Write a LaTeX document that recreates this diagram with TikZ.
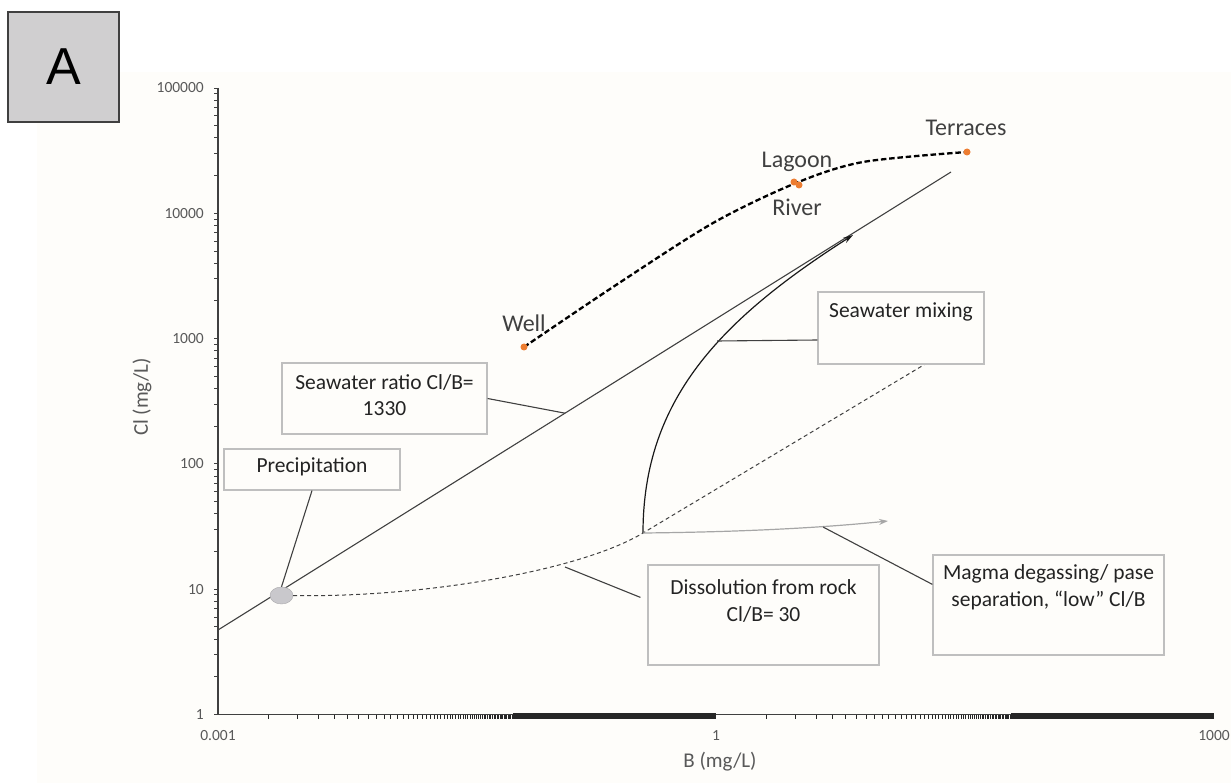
\documentclass[tikz,border=0pt]{standalone}
\usepackage{fontspec}
\setmainfont{Carlito}
\newfontfamily\arialfont{Liberation Sans}
\usetikzlibrary{arrows.meta,calc,shapes.geometric}
\definecolor{bgc}{RGB}{254,253,250}
\definecolor{axc}{RGB}{64,64,64}
\definecolor{lblc}{RGB}{89,89,89}
\definecolor{dotc}{RGB}{237,125,49}
\definecolor{boxc}{RGB}{191,191,191}
\definecolor{txtc}{RGB}{35,35,35}
\definecolor{ptc}{RGB}{64,64,64}
\definecolor{abg}{RGB}{208,207,208}
\definecolor{ellc}{RGB}{201,200,204}
\definecolor{magc}{RGB}{166,166,166}
\begin{document}
\begin{tikzpicture}[x=1pt,y=-1pt,
  labelbox/.style={draw=boxc, line width=1.2pt, fill=bgc, rectangle, inner sep=0pt},
  boxtext/.style={font=\fontsize{21.5}{27}\selectfont, text=txtc, align=center, inner sep=0pt},
  ptlabel/.style={font=\fontsize{24}{28}\selectfont, text=ptc, inner sep=0pt},
  ticklbl/.style={font=\fontsize{15.5}{18}\selectfont, text=lblc, inner sep=0pt},
  axtitle/.style={font=\fontsize{21}{25}\selectfont, text=lblc, inner sep=0pt},
  leader/.style={draw=axc, line width=1.1pt},
  dotmark/.style={circle, fill=dotc, minimum size=7pt, inner sep=0pt},
  axline/.style={draw=axc, line width=1.2pt},
  tickline/.style={draw=black!85, line width=0.8pt},
]
\useasboundingbox (0,0) rectangle (1231,783);
\fill[white] (0,0) rectangle (1231,783);
\fill[bgc] (37,72) rectangle (1231,783);

% panel letter
\node[draw=axc, line width=1.2pt, fill=abg, minimum width=111pt, minimum height=110pt, inner sep=0pt] (abox) at (63.5,67) {\arialfont\fontsize{52}{52}\selectfont A};

% axes
\draw[axline] (218,88) -- (218,714.5) -- (1214,714.5);
% y ticks (log)
\foreach \d in {0,...,4}{
  \foreach \m in {1,...,9}{
    \draw[axline, line width=0.9pt] (214,{714.5-125.3*(\d+log10(\m))}) -- (218,{714.5-125.3*(\d+log10(\m))});
  }
}
\draw[axline, line width=0.9pt] (214,88) -- (218,88);
% x ticks (linear minor ticks on log axis)
\foreach \k in {2,...,60}{
  \draw[tickline] ({218+166*log10(\k)},714.5) -- ++(0,4.3);
  \draw[tickline] ({716+166*log10(\k)},714.5) -- ++(0,4.3);
}
\fill[black!85] ({218+166*log10(60)},713.4) rectangle (716,718.8);
\fill[black!85] ({716+166*log10(60)},713.4) rectangle (1214,718.8);

% tick labels
\node[ticklbl, anchor=east] at (204,714.5) {1};
\node[ticklbl, anchor=east] at (204,589.2) {10};
\node[ticklbl, anchor=east] at (204,463.9) {100};
\node[ticklbl, anchor=east] at (204,338.6) {1000};
\node[ticklbl, anchor=east] at (204,213.3) {10000};
\node[ticklbl, anchor=east] at (204,88) {100000};
\node[ticklbl] at (218,736) {0.001};
\node[ticklbl] at (716,736) {1};
\node[ticklbl] at (1214,736) {1000};
\node[axtitle, rotate=90] at (142,397) {Cl (mg/L)};
\node[axtitle] at (720,762) {B (mg/L)};

% seawater ratio line
\coordinate (sl0) at (218,630);
\coordinate (sl1) at (951,172);
\draw[axc, line width=1.1pt] (sl0) -- (sl1);
\coordinate (srpt) at ($(sl0)!0.4734!(sl1)$);

% precipitation ellipse
\node[ellipse, fill=ellc, draw=ellc!85!black, line width=0.4pt, minimum width=23pt, minimum height=17pt, inner sep=0pt] (ell) at (281.5,595.5) {};

% dissolution (dashed thin) curve
\coordinate (jn) at (643,533);
\coordinate (dissend) at (932,360);
\draw[axc, line width=1pt, dash pattern=on 4pt off 3pt] (ell.east) .. controls (420,598) and (580,571) .. (jn) -- (dissend);
\coordinate (disspt) at (565,567);

% seawater mixing curve
\coordinate (mixpt) at (717,341);
\coordinate (mixtip) at (853,235);
\draw[black!90, line width=1.2pt, -{Stealth[length=10pt,width=6pt]}] (jn) .. controls (643,400) and (720,320) .. (mixtip);

% magma degassing arrow
\coordinate (magpt) at (823,527);
\coordinate (magtip) at (888,521);
\draw[magc, line width=1.2pt, -{Stealth[length=9pt,width=6pt]}] (jn) .. controls (740,532) and (820,528) .. (magtip);

% sample curve Well -> Terraces
\coordinate (well) at (524,347);
\coordinate (lagoon) at (794,182);
\coordinate (river) at (799,185);
\coordinate (terr) at (967,152);
\draw[black, line width=2.3pt, dash pattern=on 5.5pt off 2.8pt] plot[smooth] coordinates {(well) (613,287) (713,223) (796,183) (863,162) (terr)};
\node[dotmark] (wellp) at (well) {};
\node[dotmark] (lagp) at (lagoon) {};
\node[dotmark] (rivp) at (river) {};
\node[dotmark] (terrp) at (terr) {};
\node[ptlabel] at (524,323) {Well};
\node[ptlabel] at (797,162) {Lagoon};
\node[ptlabel] at (797,207) {River};
\node[ptlabel] at (966,128) {Terraces};

% label boxes
\node[labelbox, minimum width=176pt, minimum height=41pt] (prec) at (312,469.5) {};
\node[boxtext] at ([yshift=2.5pt]prec.center) {Precipitation};
\node[labelbox, minimum width=205pt, minimum height=71pt] (ratio) at (384.5,398.5) {};
\node[boxtext, font=\fontsize{21.5}{26}\selectfont] at ([yshift=3.5pt]ratio.center) {Seawater ratio Cl/B=\\1330};
\node[labelbox, minimum width=166pt, minimum height=72pt] (mix) at (901,328) {};
\node[boxtext] at ([yshift=16pt]mix.center) {Seawater mixing};
\node[labelbox, minimum width=231pt, minimum height=100pt] (diss) at (763.5,615) {};
\node[boxtext] at ([yshift=14.5pt]diss.center) {Dissolution from rock\\Cl/B= 30};
\node[labelbox, minimum width=231pt, minimum height=100pt] (magma) at (1048.5,605) {};
\node[boxtext] at ([yshift=17.5pt]magma.center) {Magma degassing/ pase\\separation, “low” Cl/B};

% leader lines
\draw[leader] (prec.south) -- (ell.north);
\draw[leader] (ratio.east) -- (srpt);
\draw[leader] ([yshift=-12pt]mix.west) -- (mixpt);
\draw[leader] (disspt) -- ([shift={(-7,33)}]diss.north west);
\draw[leader] (magpt) -- ([shift={(0,30)}]magma.north west);
\end{tikzpicture}
\end{document}
